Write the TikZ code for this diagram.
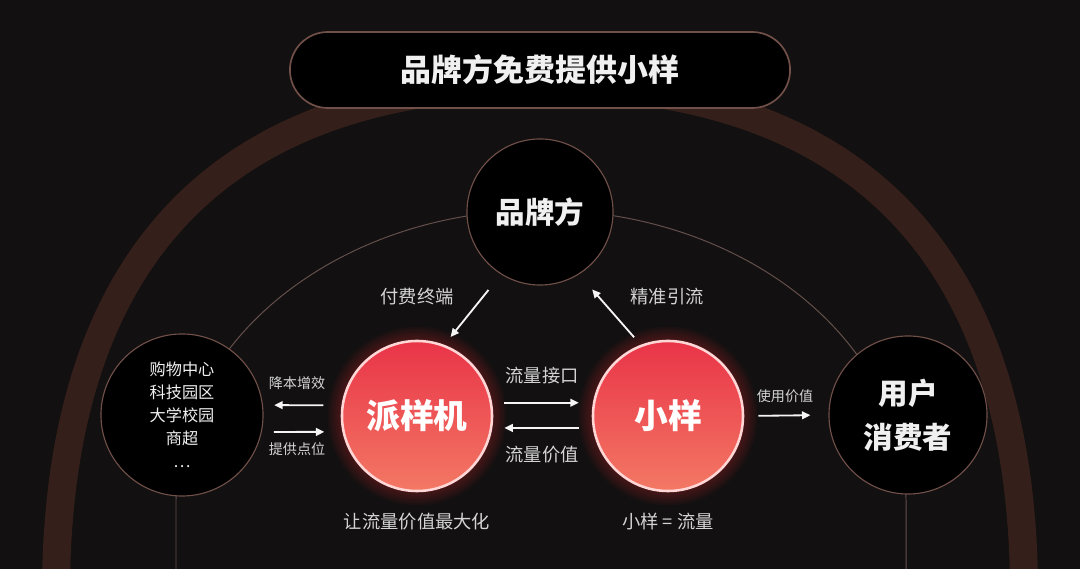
\documentclass[tikz,border=0pt]{standalone}
\usepackage{fontspec}
\setmainfont{Noto Sans CJK SC}
\usepackage{tikz}
\usetikzlibrary{arrows.meta}

\definecolor{bgc}{RGB}{18,16,16}
\definecolor{bandc}{RGB}{52,31,26}
\definecolor{ringc}{RGB}{112,80,72}
\definecolor{linec}{RGB}{100,80,76}
\definecolor{hottop}{RGB}{233,52,72}
\definecolor{hotbot}{RGB}{243,120,100}
\definecolor{hotrim}{RGB}{255,214,214}
\definecolor{glowc}{RGB}{190,40,50}
\definecolor{txt}{RGB}{240,240,240}
\definecolor{lbl}{RGB}{212,212,212}

\tikzset{
	ring/.style={circle, draw=ringc, line width=0.8pt, fill=black, text=txt, inner sep=0pt, align=center},
	hot/.style={circle, draw=hotrim, line width=1.8pt, top color=hottop, bottom color=hotbot, text=white, minimum size=3.75cm, inner sep=0pt, font=\fontsize{24}{28}\selectfont\bfseries},
	lab/.style={text=lbl, inner sep=0pt, font=\fontsize{13}{15}\selectfont},
	smalllab/.style={text=lbl, inner sep=0pt, font=\fontsize{10}{12}\selectfont},
	arr/.style={draw=white!92!gray, line width=1.3pt, -{Triangle[length=6pt,width=5.5pt]}},
}

\begin{document}
\begin{tikzpicture}[x=0.025cm, y=-0.025cm]
	\fill[bgc] (0,0) rectangle (1080,569);
	\useasboundingbox (0,0) rectangle (1080,569);
	% big arch and thin inner arch
	\draw[bandc, line width=0.7cm] (56,580) .. controls (62,200) and (280,85) .. (540,85) .. controls (800,85) and (1018,200) .. (1024,580);
	\draw[linec, line width=0.7pt] (176,575) -- (176,500) arc[start angle=180, end angle=360, x radius=365, y radius=290] -- (906,575);
	% title
	\node[draw=ringc, line width=1.2pt, fill=black, rounded corners=0.95cm, minimum width=12.5cm, minimum height=1.9cm, text=txt, font=\fontsize{22}{26}\selectfont\bfseries] (title) at (540,70) {品牌方免费提供小样};
	% glow behind the red circles
	\coordinate (pc) at (417,416);
	\coordinate (xc) at (668,416);
	\foreach \c in {pc,xc}
	{
		\foreach \k in {1,...,6}
			\fill[glowc, opacity=0.06] (\c) circle (1.875cm+\k*0.06cm);
	}
	% nodes
	\node[ring, minimum size=3.65cm, font=\fontsize{21}{25}\selectfont\bfseries] (brand) at (540,212) {品牌方};
	\node[ring, minimum size=4.05cm, font=\fontsize{11.5}{16.4}\selectfont] (venues) at (182,415) {购物中心\\科技园区\\大学校园\\商超\\…};
	\node[ring, minimum size=3.95cm, font=\fontsize{21}{31}\selectfont\bfseries] (user) at (908,415) {用户\\消费者};
	\node[hot] (paiyang) at (pc) {派样机};
	\node[hot] (xiaoyang) at (xc) {小样};
	% connectors
	\draw[arr, shorten <=0.5cm, shorten >=0.25cm] (brand.-122) -- (paiyang.69);
	\draw[arr, shorten <=0.25cm, shorten >=0.5cm] (xiaoyang.111) -- (brand.-58);
	\draw[arr, shorten <=0.3cm, shorten >=0.35cm] (paiyang.10) -- (xiaoyang.170);
	\draw[arr, shorten <=0.35cm, shorten >=0.3cm] (xiaoyang.-171) -- (paiyang.-9);
	\draw[arr, shorten <=0.45cm, shorten >=0.28cm] (paiyang.172) -- (venues.7);
	\draw[arr, shorten <=0.3cm, shorten >=0.45cm] (venues.-12) -- (paiyang.-168);
	\draw[arr, shorten <=0.35cm, shorten >=0.45cm] (xiaoyang.east) -- (user.west);
	% labels
	\node[lab] (fee) at (417,297) {付费终端};
	\node[lab] (guide) at (667,297) {精准引流};
	\node[lab] (port) at (542,376) {流量接口};
	\node[lab] (value) at (542,455) {流量价值};
	\node[smalllab] (cost) at (297,383) {降本增效};
	\node[smalllab] (spot) at (297,449) {提供点位};
	\node[smalllab] (use) at (785,396) {使用价值};
	\node[lab] (maxv) at (417,522) {让流量价值最大化};
	\node[lab] (eq) at (668,522) {小样 = 流量};
\end{tikzpicture}
\end{document}
